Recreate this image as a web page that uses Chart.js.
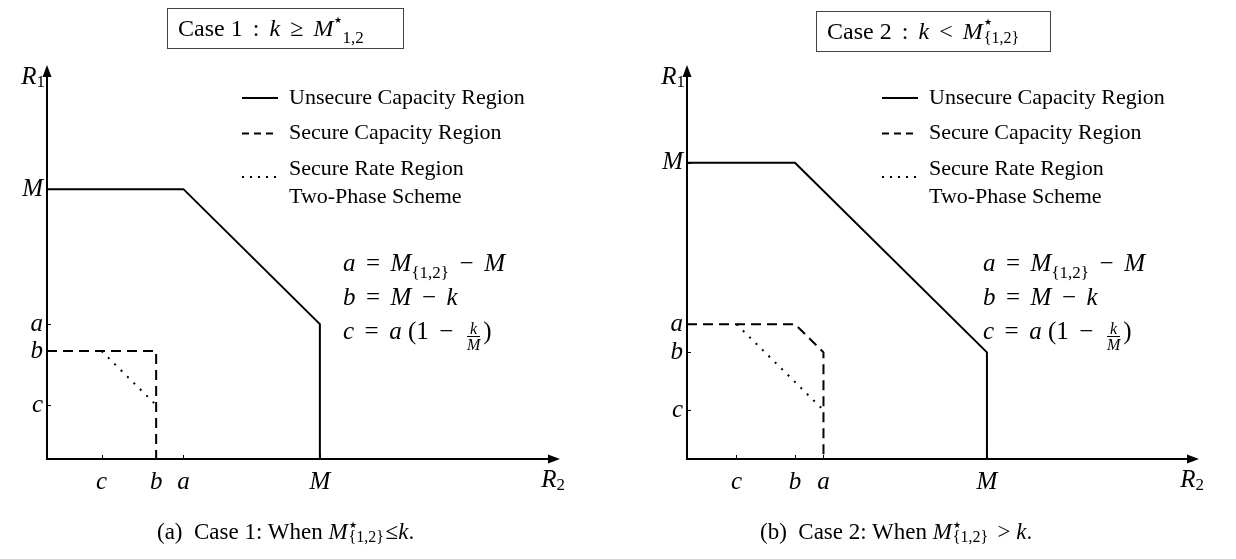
<!DOCTYPE html>
<html>
<head>
<meta charset="utf-8">
<script src="https://cdn.jsdelivr.net/npm/chart.js@4.4.1/dist/chart.umd.min.js"></script>
<style>
  body { margin: 0; background: #fff; width: 1236px; height: 559px; overflow: hidden; font-family: 'Liberation Serif', serif; color: #000; }
  .panel { position: absolute; top: 0; width: 618px; height: 559px; }
  .panel canvas { position: absolute; left: 0; top: 0; }
  i { font-style: italic; }
  .op { margin: 0 0.42em; }
  .box { position: absolute; height: 41px; border: 1px solid #444; box-sizing: border-box; font-size: 24px; line-height: 38px; padding-left: 10px; white-space: nowrap; }
  .eq { position: absolute; font-size: 25px; line-height: 34px; white-space: nowrap; }
  .lo { font-size: 17px; line-height: 0; vertical-align: -0.4em; font-style: normal; }
  .hi { font-size: 9px; line-height: 0; vertical-align: 1.5em; margin-left: 1px; }
  .st { display: inline-block; position: relative; height: 0; font-style: normal; }
  .st span { position: absolute; left: 1px; white-space: nowrap; line-height: 1; }
  .st .s1 { font-size: 9px; }
  .frac { display: inline-flex; flex-direction: column; vertical-align: 0.3em; font-size: 16px; line-height: 15px; text-align: center; margin: 0 3px; }
  .frac span:first-child { border-bottom: 1px solid #000; padding: 0 1px; }
  .cap { position: absolute; top: 519px; font-size: 23px; white-space: nowrap; }
</style>
</head>
<body>
<div class="panel" style="left:0">
  <canvas id="case1" width="618" height="559"></canvas>
  <div class="box" style="left:167px; top:8px; width:237px;">Case 1<span class="op">:</span><i>k</i><span class="op">&ge;</span><i>M</i><span class="hi">&#9733;</span><span class="lo">1,2</span></div>
  <div class="eq" style="left:343px; top:246px;">
    <i>a</i><span class="op">=</span><i>M</i><span class="lo">{1,2}</span><span class="op">&minus;</span><i>M</i><br>
    <i>b</i><span class="op">=</span><i>M</i><span class="op">&minus;</span><i>k</i><br>
    <i>c</i><span class="op">=</span><i>a</i> (1<span class="op">&minus;</span><span class="frac"><span><i>k</i></span><span><i>M</i></span></span>)
  </div>
  <div class="cap" style="left:157px;">(a)&nbsp; Case 1: When <i>M</i><span class="st" style="width:38px"><span class="s1" style="top:-18px">&#9733;</span><span style="top:-10px;font-size:16px">{1,2}</span></span>&le;<i>k</i>.</div>
</div>
<div class="panel" style="left:618px">
  <canvas id="case2" width="618" height="559"></canvas>
  <div class="box" style="left:198px; top:11px; width:235px;">Case 2<span class="op">:</span><i>k</i><span class="op">&lt;</span><i>M</i><span class="st" style="width:44px"><span class="s1" style="top:-21px">&#9733;</span><span style="top:-9px;font-size:16px">{1,2}</span></span></div>
  <div class="eq" style="left:365px; top:246px;">
    <i>a</i><span class="op">=</span><i>M</i><span class="lo">{1,2}</span><span class="op">&minus;</span><i>M</i><br>
    <i>b</i><span class="op">=</span><i>M</i><span class="op">&minus;</span><i>k</i><br>
    <i>c</i><span class="op">=</span><i>a</i> (1<span class="op">&minus;</span><span class="frac"><span><i>k</i></span><span><i>M</i></span></span>)
  </div>
  <div class="cap" style="left:142px;">(b)&nbsp; Case 2: When <i>M</i><span class="st" style="width:40px"><span class="s1" style="top:-18px">&#9733;</span><span style="top:-10px;font-size:16px">{1,2}</span></span> &gt; <i>k</i>.</div>
</div>
<script>
// tick names shared by both panels, values in units of M = 10
const tickNames = ['c', 'b', 'a', 'M'];

// Case 1: k >= M*
const case1Ticks = [2, 4, 5, 10];
const case1UnsecureR2 = [0, 5, 10, 10];
const case1UnsecureR1 = [10, 10, 5, 0];
const case1SecureR2 = [0, 4, 4];
const case1SecureR1 = [4, 4, 0];
const case1TwoPhaseR2 = [2, 4];
const case1TwoPhaseR1 = [4, 2];

// Case 2: k < M*
const case2Ticks = [1.65, 3.6, 4.55, 10];
const case2UnsecureR2 = [0, 3.6, 10, 10];
const case2UnsecureR1 = [10, 10, 3.6, 0];
const case2SecureR2 = [0, 3.6, 4.55, 4.55];
const case2SecureR1 = [4.55, 4.55, 3.6, 0];
const case2TwoPhaseR2 = [1.65, 4.55];
const case2TwoPhaseR1 = [4.55, 1.65];

const seriesLabels = ['Unsecure Capacity Region', 'Secure Capacity Region', 'Secure Rate Region\nTwo-Phase Scheme'];

const mathFont = { family: "'Liberation Serif', serif", size: 25, style: 'italic' };

function toPoints(xs, ys) {
    return xs.map((x, i) => ({ x: x, y: ys[i] }));
}

// axes with arrow heads, inner tick marks, axis names and legend
const regionDecor = {
    id: 'regionDecor',
    afterDatasetsDraw(chart, args, opts) {
        const ctx = chart.ctx;
        const area = chart.chartArea;
        const xs = chart.scales.x, ys = chart.scales.y;
        ctx.save();
        ctx.strokeStyle = '#000';
        ctx.fillStyle = '#000';
        ctx.setLineDash([]);

        // axes
        ctx.lineWidth = 2;
        ctx.beginPath();
        ctx.moveTo(area.left, area.top + 8);
        ctx.lineTo(area.left, area.bottom);
        ctx.lineTo(area.right - 8, area.bottom);
        ctx.stroke();
        ctx.beginPath();
        ctx.moveTo(area.left, area.top);
        ctx.lineTo(area.left - 4.5, area.top + 12);
        ctx.lineTo(area.left + 4.5, area.top + 12);
        ctx.closePath();
        ctx.fill();
        ctx.beginPath();
        ctx.moveTo(area.right, area.bottom);
        ctx.lineTo(area.right - 12, area.bottom - 4.5);
        ctx.lineTo(area.right - 12, area.bottom + 4.5);
        ctx.closePath();
        ctx.fill();

        // tick marks
        ctx.lineWidth = 1;
        xs.ticks.forEach(t => {
            const px = Math.round(xs.getPixelForValue(t.value)) + 0.5;
            ctx.beginPath();
            ctx.moveTo(px, area.bottom);
            ctx.lineTo(px, area.bottom - 4);
            ctx.stroke();
        });
        ys.ticks.forEach(t => {
            const py = Math.round(ys.getPixelForValue(t.value)) + 0.5;
            ctx.beginPath();
            ctx.moveTo(area.left, py);
            ctx.lineTo(area.left + 4, py);
            ctx.stroke();
        });

        // axis names
        const drawName = (sub, x, y) => {
            ctx.textBaseline = 'middle';
            ctx.textAlign = 'left';
            ctx.font = "italic 25px 'Liberation Serif'";
            const w = ctx.measureText('R').width;
            ctx.font = "17px 'Liberation Serif'";
            const ws = ctx.measureText(sub).width;
            const x0 = x - w - ws;
            ctx.font = "italic 25px 'Liberation Serif'";
            ctx.fillText('R', x0, y);
            ctx.font = "17px 'Liberation Serif'";
            ctx.fillText(sub, x0 + w, y + 6);
        };
        drawName('1', area.left - 2, area.top + 12);
        drawName('2', area.right + 5, area.bottom + 21);

        // legend
        ctx.font = "22px 'Liberation Serif'";
        ctx.textBaseline = 'middle';
        ctx.textAlign = 'left';
        let y = opts.legendY;
        chart.data.datasets.forEach(ds => {
            const lines = ds.label.split('\n');
            const sampleY = y + (lines.length - 1) * 8;
            ctx.lineWidth = 2;
            ctx.setLineDash(ds.legendDash || []);
            ctx.beginPath();
            ctx.moveTo(opts.legendX, sampleY);
            ctx.lineTo(opts.legendX + 36, sampleY);
            ctx.stroke();
            ctx.setLineDash([]);
            lines.forEach((line, i) => {
                ctx.fillText(line, opts.legendX + 47, y + i * 28);
            });
            y += 35.5 + (lines.length - 1) * 28;
        });
        ctx.restore();
    }
};

function makeRegionChart(id, ticks, unsecure, secure, twoPhase, layout) {
    const ctx = document.getElementById(id).getContext('2d');
    const lineBase = { borderColor: '#000', borderWidth: 2, showLine: true, pointRadius: 0, tension: 0, fill: false, clip: false };
    const axisBase = (max, fit) => ({
        type: 'linear',
        min: 0,
        max: max,
        afterBuildTicks: (scale) => { scale.ticks = ticks.map(v => ({ value: v })); },
        afterFit: fit,
        grid: { display: false, drawTicks: false },
        border: { display: false },
        ticks: {
            autoSkip: false,
            maxRotation: 0,
            color: '#000',
            font: mathFont,
            callback: (value, index) => tickNames[index]
        }
    });
    const xAxis = axisBase(layout.xMax, (s) => { s.height = 100; });
    xAxis.ticks.padding = 8;
    const yAxis = axisBase(layout.yMax, (s) => { s.width = layout.originX; });
    yAxis.ticks.padding = 4;

    return new Chart(ctx, {
        type: 'scatter',
        data: {
            datasets: [
                Object.assign({ label: seriesLabels[0], data: toPoints(unsecure[0], unsecure[1]), borderDash: [], legendDash: [] }, lineBase),
                Object.assign({ label: seriesLabels[1], data: toPoints(secure[0], secure[1]), borderDash: [10, 6], legendDash: [7, 5] }, lineBase),
                Object.assign({ label: seriesLabels[2], data: toPoints(twoPhase[0], twoPhase[1]), borderDash: [2, 7], legendDash: [2, 6] }, lineBase)
            ]
        },
        options: {
            responsive: false,
            animation: false,
            layout: { padding: { left: 0, top: 65, right: layout.padRight, bottom: 0 } },
            plugins: {
                legend: { display: false },
                tooltip: { enabled: false },
                regionDecor: { legendX: layout.legendX, legendY: 98 }
            },
            scales: { x: xAxis, y: yAxis }
        },
        plugins: [regionDecor]
    });
}

makeRegionChart('case1', case1Ticks,
    [case1UnsecureR2, case1UnsecureR1],
    [case1SecureR2, case1SecureR1],
    [case1TwoPhaseR2, case1TwoPhaseR1],
    { originX: 47, padRight: 58, xMax: 18.8, yMax: 14.6, legendX: 242 });

makeRegionChart('case2', case2Ticks,
    [case2UnsecureR2, case2UnsecureR1],
    [case2SecureR2, case2SecureR1],
    [case2TwoPhaseR2, case2TwoPhaseR1],
    { originX: 69, padRight: 37, xMax: 17.07, yMax: 13.3, legendX: 264 });
</script>
</body>
</html>
